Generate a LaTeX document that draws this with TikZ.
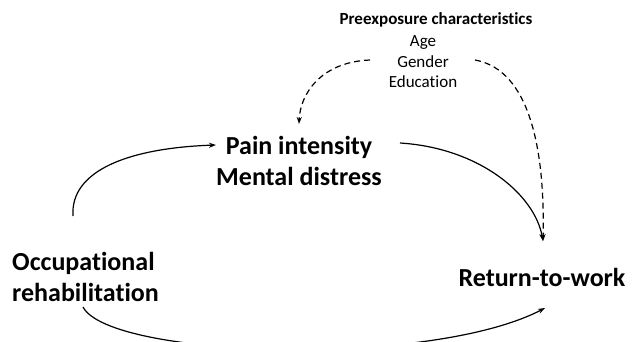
\documentclass[tikz,border=0pt]{standalone}
\usepackage{fontspec}
\setmainfont[Ligatures=NoCommon]{Carlito}
\usetikzlibrary{arrows.meta}
\begin{document}
\begin{tikzpicture}[x=1pt,y=-1pt,
  big/.style={font=\fontsize{26}{31.5}\selectfont\bfseries, align=center, inner sep=0pt},
  small/.style={font=\fontsize{17}{20.5}\selectfont, align=center, inner sep=0pt},
  conn/.style={line width=1.2pt, -{Stealth[length=7pt,width=5pt]}},
  dconn/.style={conn, dash pattern=on 6pt off 4pt}]
\useasboundingbox (0,0) rectangle (640,342);
\clip (0,0) rectangle (640,342);
\node[small, font=\fontsize{17}{20}\selectfont\bfseries] (pre) at (436,20) {Preexposure characteristics};
\node[small] (chars) at (423,62) {Age\\Gender\\Education};
\node[big] (pain) at (299,161) {Pain intensity\\Mental distress};
\node[big, align=left, anchor=west] (occ) at (12,277) {Occupational\\rehabilitation};
\node[big] (rtw) at (542,277) {Return-to-work};
\coordinate (dl) at (370,60);
\coordinate (dr) at (475,60);
\coordinate (dlend) at (299,124);
\coordinate (rtwtop) at (543,241);
\coordinate (pain_r) at (400,143);
\coordinate (pain_l) at (216,145);
\coordinate (occ_t) at (73,216);
\coordinate (occ_b) at (83,307);
\coordinate (rtw_b) at (545,308);
\draw[dconn] (dl) .. controls (320,62) and (300,95) .. (dlend);
\draw[dconn] (dr) .. controls (530,70) and (545,150) .. (rtwtop);
\draw[conn] (pain_r) .. controls (480,148) and (535,195) .. (rtwtop);
\draw[conn] (occ_t) .. controls (70,170) and (130,148) .. (pain_l);
\draw[conn] (occ_b) .. controls (110,358) and (430,368) .. (rtw_b);
\end{tikzpicture}
\end{document}
